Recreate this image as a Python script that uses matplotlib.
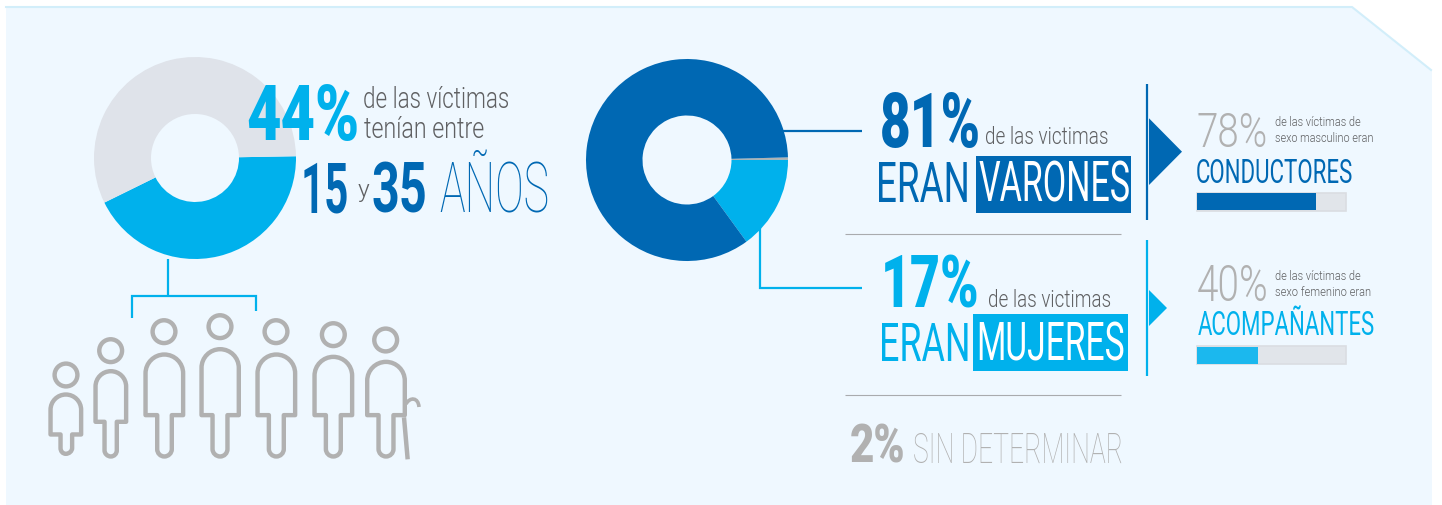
import io
import os
import tempfile

import matplotlib
matplotlib.use("Agg")
import matplotlib.pyplot as plt
from matplotlib import font_manager as fm
from matplotlib.patches import Polygon, Rectangle, Circle, PathPatch
from matplotlib.path import Path
from matplotlib.textpath import TextPath
from fontTools.ttLib import TTFont
from fontTools import subset as ft_subset
from fontTools.varLib import instancer
from fontTools.pens.ttGlyphPen import TTGlyphPen
from fontTools.pens.transformPen import TransformPen
from fontTools.pens.recordingPen import DecomposingRecordingPen

# ---- data -------------------------------------------------------------
age_share = [43, 57]                  # 15-35 años / resto (as drawn)
gender_share = [0.4, 15, 84.6]        # sin determinar / mujeres / varones (as drawn)
role_values = [78, 40]
role_labels = ["CONDUCTORES", "ACOMPAÑANTES"]
role_pct = ["78%", "40%"]

DARK = "#0068b3"
LIGHT = "#00b1ec"
LIGHT_BAR = "#1bb8ee"
TRACK = "#e1e5ea"
TRACK_EDGE = "#dadde2"
GREY = "#b1b1b1"
SUB = "#5f6062"
BG = "#eff8ff"
EDGE = "#d2eefa"
DONUT_GREY = "#dfe3ea"

W, H = 1442, 505
fig = plt.figure(figsize=(W / 100, H / 100), dpi=100, facecolor="white")
ax = fig.add_axes([0, 0, 1, 1])
ax.set_axis_off()

# panel
ax.add_patch(Polygon([(6, 7), (1352, 7), (1432, 70), (1432, 505), (6, 505)],
                     closed=True, fc=BG, ec="none", zorder=0))
ax.plot([6, 1352, 1431], [7, 7, 70], color=EDGE, lw=1.5, zorder=1)

# donuts (y axis points down, so counterclock=True turns clockwise on screen)
ax.pie(age_share, colors=[LIGHT, DONUT_GREY], startangle=-1, counterclock=True,
       center=(195, 158), radius=101, wedgeprops=dict(width=57, lw=0), frame=True)
ax.pie(gender_share, colors=[GREY, LIGHT, DARK], startangle=-1.5, counterclock=True,
       center=(687, 160), radius=101, wedgeprops=dict(width=56.5, lw=0), frame=True)
ax.set_aspect("auto")
ax.set_xlim(0, W)
ax.set_ylim(H, 0)
ax.set_axis_off()

fig.canvas.draw()
rend = fig.canvas.get_renderer()

# --- condensed instances of an installed family, so text stays real text
CHARS = "".join(chr(c) for c in range(32, 127)) + "ÑñÍí"
TMP = tempfile.mkdtemp()
_base = {}
_cond = {}


def base_font(weight):
    if weight not in _base:
        path = fm.findfont(fm.FontProperties(family="Roboto", weight=weight))
        f = TTFont(path, fontNumber=0)
        opts = ft_subset.Options()
        opts.layout_features = []
        opts.hinting = False
        opts.name_IDs = ["*"]
        opts.drop_tables += ["GSUB", "GPOS", "GDEF", "kern"]
        sub = ft_subset.Subsetter(opts)
        sub.populate(text=CHARS)
        sub.subset(f)
        if "fvar" in f:
            lim = {a.axisTag: a.defaultValue for a in f["fvar"].axes}
            if "wght" in lim:
                lim["wght"] = weight
            f = instancer.instantiateVariableFont(f, lim)
        buf = io.BytesIO()
        f.save(buf)
        _base[weight] = buf.getvalue()
    return _base[weight]


def cond_font(weight, sx):
    key = (weight, sx)
    if key not in _cond:
        f = TTFont(io.BytesIO(base_font(weight)))
        gs = f.getGlyphSet()
        new = {}
        for name in f.getGlyphOrder():
            rec = DecomposingRecordingPen(gs)
            gs[name].draw(rec)
            pen = TTGlyphPen(None)
            rec.replay(TransformPen(pen, (sx, 0, 0, 1, 0, 0)))
            new[name] = (pen.glyph(), round(f["hmtx"][name][0] * sx))
        for name, (g, adv) in new.items():
            f["glyf"][name] = g
            g.recalcBounds(f["glyf"])
            f["hmtx"][name] = (adv, getattr(g, "xMin", 0) or 0)
        p = os.path.join(TMP, f"cond_{weight}_{int(sx * 100)}.ttf")
        f.save(p)
        _cond[key] = p
    return fm.FontProperties(fname=_cond[key])


CAP = 0.711
PX = 100 / 72


def ink(s, prop, size):
    e = TextPath((0, 0), s, size=size, prop=prop).get_extents()
    return e.x0 * PX, e.x1 * PX


def txt(x0, x1, ytop, ybot, s, color, weight=400, z=6):
    """Real text: size from the cap height ytop..ybot, ink width fitted to x0..x1."""
    size = (ybot - ytop) / CAP * 0.72
    a, b = ink(s, cond_font(weight, 1.0), size)
    sx = round((x1 - x0) / (b - a), 2)
    prop = cond_font(weight, sx)
    a, b = ink(s, prop, size)
    prop.set_size(size)
    return ax.text(x0 - a, ybot, s, color=color, fontproperties=prop,
                   ha="left", va="baseline", zorder=z)


def seg(xs, ys, color, lw=1.6, z=3, cap="butt"):
    ax.plot(xs, ys, color=color, lw=lw, solid_capstyle=cap, solid_joinstyle="miter", zorder=z)


# --- left block text
txt(248, 357, 85, 140, "44%", LIGHT, 800)
txt(364, 508.5, 87, 108.5, "de las víctimas", SUB, 300)
txt(364, 484, 117, 138, "tenían entre", SUB, 300)
txt(304, 347, 162.5, 212.5, "15", DARK, 700)
txt(358, 369, 180, 197, "y", SUB, 300)
txt(373, 425, 162.5, 212.5, "35", DARK, 700)
txt(440, 547, 162.5, 212.5, "AÑOS", DARK, 100)

# bracket
seg([168, 168], [259, 296], LIGHT)
seg([132, 132, 256, 256], [318, 296, 296, 311], LIGHT)

# --- people
people = [
    # head cx, cy, body x0, x1, top, arm bottom, leg x0, x1, bottom  (zoom px)
    (108, 345, 55, 160, 397, 530, 85, 133, 588),
    (242, 272, 190, 295, 327, 492, 217, 267, 596),
    (402, 215, 340, 466, 277, 472, 375, 432, 596),
    (570, 200, 508, 633, 261, 472, 541, 599, 596),
    (738, 215, 676, 802, 277, 472, 710, 768, 596),
    (910, 224, 847, 973, 284, 472, 881, 939, 596),
    (1067, 240, 1005, 1131, 299, 472, 1039, 1097, 596),
]


def zx(v):
    return 30 + v / 3


def zy(v):
    return 260 + v / 3


def person(hx, hy, x0, x1, top, arm, l0, l1, bot):
    lw_px = 4.4
    i = lw_px / 2
    ax.add_patch(Circle((zx(hx), zy(hy)), 11.4, fc="none", ec=GREY, lw=lw_px * 0.72, zorder=4))
    x0, x1, l0, l1 = zx(x0) + i, zx(x1) - i, zx(l0) + i, zx(l1) - i
    top, arm, bot = zy(top) + i, zy(arm) - i, zy(bot) - i
    r = (x1 - x0) / 2
    lr = (l1 - l0) / 2
    cx = (x0 + x1) / 2
    k = 0.5523
    v = [(x0, arm), (x0, top + r),
         (x0, top + r - k * r), (cx - k * r, top), (cx, top),
         (cx + k * r, top), (x1, top + r - k * r), (x1, top + r),
         (x1, arm), (l1, arm), (l1, bot - lr),
         (l1, bot - lr + k * lr), (cx + k * lr, bot), (cx, bot),
         (cx - k * lr, bot), (l0, bot - lr + k * lr), (l0, bot - lr),
         (l0, arm), (x0, arm)]
    c = [Path.MOVETO, Path.LINETO,
         Path.CURVE4, Path.CURVE4, Path.CURVE4,
         Path.CURVE4, Path.CURVE4, Path.CURVE4,
         Path.LINETO, Path.LINETO, Path.LINETO,
         Path.CURVE4, Path.CURVE4, Path.CURVE4,
         Path.CURVE4, Path.CURVE4, Path.CURVE4,
         Path.LINETO, Path.CLOSEPOLY]
    ax.add_patch(PathPatch(Path(v, c), fc="none", ec=GREY, lw=lw_px * 0.72,
                           joinstyle="round", zorder=4))


for p in people:
    person(*p)

# cane
seg([zx(1122), zx(1133)], [zy(472), zy(598)], GREY, lw=3.2, z=4)
ax.add_patch(PathPatch(Path([(zx(1128), zy(432)), (zx(1140), zy(410)), (zx(1165), zy(412)), (zx(1167), zy(441))],
                            [Path.MOVETO, Path.CURVE4, Path.CURVE4, Path.CURVE4]),
                       fc="none", ec=GREY, lw=2.6, zorder=4))

# --- right block: connectors
seg([783, 862], [130.8, 130.8], DARK)
seg([759.5, 759.5, 862], [228, 288, 288], LIGHT)
seg([1147, 1147], [84, 220], DARK)
seg([1147, 1147], [240, 376], LIGHT)
ax.add_patch(Polygon([(1149, 118.3), (1182, 151.7), (1149, 185)], fc=DARK, ec="none", zorder=3))
ax.add_patch(Polygon([(1149, 290), (1167, 308), (1149, 326)], fc=LIGHT, ec="none", zorder=3))
seg([845, 1121], [234.4, 234.4], "#a9abae", lw=0.8)
seg([845, 1121], [395, 395], "#a9abae", lw=0.8)

# varones
txt(882, 978.5, 93.5, 147.5, "81%", DARK, 800)
txt(986, 1107, 127, 144, "de las victimas", SUB, 300)
txt(879, 966, 162.7, 201.7, "ERAN", DARK, 400)
ax.add_patch(Rectangle((976, 156), 155, 57, fc=DARK, ec="none", zorder=3))
txt(979, 1128, 162.7, 201.7, "VARONES", "white", 400)

# mujeres
txt(884.6, 977.5, 256, 307.3, "17%", LIGHT, 800)
txt(989, 1110, 289.5, 306.7, "de las victimas", SUB, 300)
txt(882, 967.5, 322.7, 360.7, "ERAN", LIGHT, 400)
ax.add_patch(Rectangle((973, 314), 155, 57, fc=LIGHT, ec="none", zorder=3))
txt(979, 1123, 322.7, 360.7, "MUJERES", "white", 400)

# sin determinar
txt(850.7, 903.6, 424.3, 462.7, "2%", GREY, 800)
txt(914, 1119.3, 432.3, 462.7, "SIN DETERMINAR", GREY, 200)

# role cards
bar_h = 18
SCALE = 1.526
BAR_X = 1197
for val, col, y0 in zip(role_values, [DARK, LIGHT_BAR], [192.8, 346.4]):
    ax.barh(y0 + bar_h / 2, 97.6 * SCALE, left=BAR_X, height=bar_h, color=TRACK,
            edgecolor=TRACK_EDGE, lw=1.2, zorder=3)
    ax.barh(y0 + bar_h / 2, val * SCALE, left=BAR_X, height=bar_h - 1, color=col, lw=0, zorder=4)

txt(1198, 1265.7, 111.7, 146.7, role_pct[0], GREY, 300)
txt(1275.7, 1360.7, 117.3, 126, "de las víctimas de", SUB, 300)
txt(1275.7, 1372.9, 133.3, 142, "sexo masculino eran", SUB, 300)
txt(1197, 1351.4, 158.3, 182.7, role_labels[0], DARK, 400)

txt(1198, 1266.4, 265, 300.7, role_pct[1], GREY, 300)
txt(1275.7, 1360.7, 271.3, 280, "de las víctimas de", SUB, 300)
txt(1275.7, 1370.4, 287.3, 296, "sexo femenino eran", SUB, 300)
txt(1198, 1374.3, 311, 335.3, role_labels[1], LIGHT, 400)

fig.savefig("out.png", dpi=100, facecolor="white")
